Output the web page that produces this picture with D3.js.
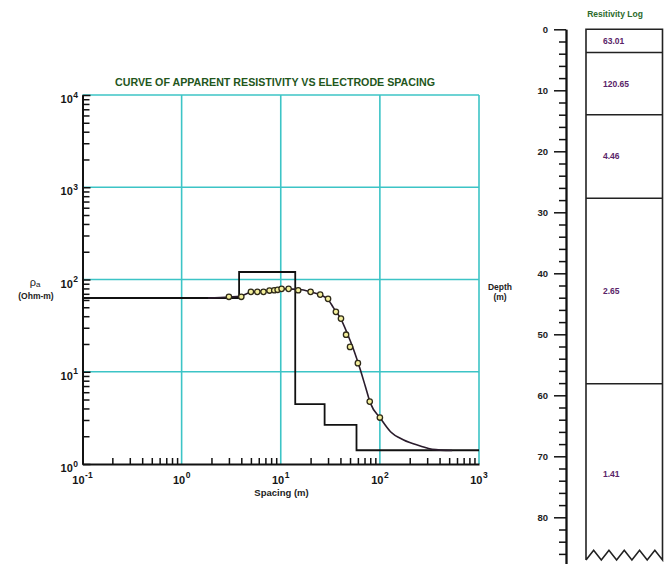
<!DOCTYPE html>
<html><head><meta charset="utf-8">
<script src="https://cdn.jsdelivr.net/npm/d3@7"></script>
<style>body{margin:0;background:#fff}svg{display:block}</style>
</head><body>
<svg id="c" width="670" height="564"></svg>
<script>
// ---------- data ----------
const xTickExponents = [-1, 0, 1, 2, 3];
const yTickExponents = [0, 1, 2, 3, 4];
const obsSpacing = [3, 4, 5, 5.8, 6.7, 7.7, 8.6, 9.3, 10.2, 12, 15, 20, 25, 30, 36, 40.5, 45.6, 50, 60, 79, 100];
const obsRho     = [64.9, 64.9, 73.5, 73.5, 73.5, 75.9, 76.5, 77.3, 79.2, 79.2, 76.5, 73.5, 68.6, 61.7, 44.6, 37.7, 25.2, 18.6, 12.4, 4.75, 3.19];
const fitSpacing = [1.85, 3.02, 3.9, 4.92, 6.66, 8.8, 11.1, 15.7, 19.9, 25.1, 30.4, 34.1, 39.9, 46.7, 54.4, 63.5, 71.4, 80.2, 101, 128, 174, 256, 337, 536];
const fitRho     = [62.8, 64.5, 66.2, 72.2, 75.0, 77.9, 79.2, 77.9, 73.5, 68.2, 59.6, 49.2, 38.3, 26.3, 17.3, 10.5, 6.92, 4.57, 3.14, 2.24, 1.82, 1.57, 1.44, 1.40];
const layerRho    = [63.01, 120.65, 4.46, 2.65, 1.41];
const layerTop    = [0, 3.8, 14.0, 27.7, 58.1];
const layerBottom = [3.8, 14.0, 27.7, 58.1, 87.6];
const layerLabels = ["63.01", "120.65", "4.46", "2.65", "1.41"];
const depthTicks  = [0, 10, 20, 30, 40, 50, 60, 70, 80];

// ---------- setup ----------
const svg = d3.select("#c");
const FONT = "'Liberation Sans', Arial, sans-serif";
const GRID = "#3cc4c6";

const x = d3.scaleLog().domain([0.1, 1000]).range([82.5, 479]);
const y = d3.scaleLog().domain([1, 10000]).range([464, 95]);

const minorX = [], minorY = [];
for (let e = -1; e < 3; e++) for (let i = 2; i <= 9; i++) minorX.push(i * Math.pow(10, e));
for (let e = 0; e < 4; e++) for (let i = 2; i <= 9; i++) minorY.push(i * Math.pow(10, e));

// grid
const gridG = svg.append("g").attr("stroke", GRID).attr("stroke-width", 1.6);
xTickExponents.slice(1).forEach(e => {
  gridG.append("line").attr("x1", x(Math.pow(10, e))).attr("x2", x(Math.pow(10, e)))
    .attr("y1", y(1e4)).attr("y2", y(1));
});
yTickExponents.slice(1).forEach(e => {
  gridG.append("line").attr("x1", x(0.1)).attr("x2", x(1000))
    .attr("y1", y(Math.pow(10, e))).attr("y2", y(Math.pow(10, e)));
});

// axes
const yAxisMinor = d3.axisRight(y).tickValues(minorY).tickSize(7).tickSizeOuter(0).tickFormat("");
const yAxisMajor = d3.axisRight(y).tickValues(yTickExponents.map(e => Math.pow(10, e))).tickSize(8).tickSizeOuter(0).tickFormat("");
const xAxisMinor = d3.axisTop(x).tickValues(minorX).tickSize(6).tickSizeOuter(0).tickFormat("");

function styleAxis(g) {
  g.selectAll("path").attr("stroke", "#111").attr("stroke-width", 1.8);
  g.selectAll("line").attr("stroke", "#111").attr("stroke-width", 1.5);
}
svg.append("g").attr("transform", `translate(${x(0.1)},0)`).call(yAxisMinor).call(styleAxis);
svg.append("g").attr("transform", `translate(${x(0.1)},0)`).call(yAxisMajor).call(styleAxis);
svg.append("g").attr("transform", `translate(0,${y(1)})`).call(xAxisMinor).call(styleAxis);

// y tick labels
yTickExponents.forEach(e => {
  const t = svg.append("text").attr("x", 78).attr("y", y(Math.pow(10, e)) + 8)
    .attr("text-anchor", "end").attr("font-family", FONT).attr("font-size", 11)
    .attr("font-weight", "bold").attr("fill", "#151515");
  t.append("tspan").text("10");
  t.append("tspan").attr("dx", 0.5).attr("dy", -5.5).attr("font-size", 8.5).text(e);
});
// x tick labels
xTickExponents.forEach(e => {
  const t = svg.append("text").attr("x", x(Math.pow(10, e))).attr("y", 483.5)
    .attr("text-anchor", "middle").attr("font-family", FONT).attr("font-size", 11)
    .attr("font-weight", "bold").attr("fill", "#151515");
  t.append("tspan").text("10");
  t.append("tspan").attr("dx", 0.5).attr("dy", -5.5).attr("font-size", 8.5).text(e);
});

// axis titles
svg.append("text").attr("x", 281.5).attr("y", 495.5).attr("text-anchor", "middle")
  .attr("font-family", FONT).attr("font-size", 9.5).attr("font-weight", "bold").attr("fill", "#222")
  .text("Spacing (m)");
const rl = svg.append("text").attr("x", 35).attr("y", 286).attr("text-anchor", "middle")
  .attr("font-family", FONT).attr("font-size", 11).attr("fill", "#222");
rl.append("tspan").text("ρ");
rl.append("tspan").attr("font-size", 8).attr("dy", 1).text("a");
svg.append("text").attr("x", 36).attr("y", 298.5).attr("text-anchor", "middle")
  .attr("font-family", FONT).attr("font-size", 8.5).attr("font-weight", "bold").attr("fill", "#222")
  .text("(Ohm-m)");

// title
svg.append("text").attr("x", 275).attr("y", 85.5).attr("text-anchor", "middle")
  .attr("font-family", FONT).attr("font-size", 11).attr("font-weight", "bold").attr("fill", "#23561c")
  .attr("textLength", 320).attr("lengthAdjust", "spacingAndGlyphs")
  .text("CURVE OF APPARENT RESISTIVITY VS ELECTRODE SPACING");

// model step line
const stepPts = [];
layerRho.forEach((r, i) => {
  const x0 = i === 0 ? 0.1 : layerTop[i];
  const x1 = i === layerRho.length - 1 ? 1000 : layerBottom[i];
  stepPts.push([x0, r], [x1, r]);
});
svg.append("path").datum(stepPts)
  .attr("d", d3.line().x(d => x(d[0])).y(d => y(d[1])))
  .attr("fill", "none").attr("stroke", "#111").attr("stroke-width", 1.8);

// fitted curve
const fitPts = fitSpacing.map((s, i) => [s, fitRho[i]]);
svg.append("path").datum(fitPts)
  .attr("d", d3.line().x(d => x(d[0])).y(d => y(d[1])).curve(d3.curveMonotoneX))
  .attr("fill", "none").attr("stroke", "#2a1c2c").attr("stroke-width", 1.6);

// observed points
svg.append("g").selectAll("circle").data(obsSpacing.map((s, i) => [s, obsRho[i]])).join("circle")
  .attr("cx", d => x(d[0])).attr("cy", d => y(d[1])).attr("r", 2.7)
  .attr("fill", "#f4ef9c").attr("stroke", "#2f2a18").attr("stroke-width", 1.3);

// ---------- resistivity log ----------
const depth = d3.scaleLinear().domain([0, 87.6]).range([29.3, 29.3 + 6.1 * 87.6]);
const minorDepth = d3.range(0, 88, 2).filter(d => d % 10 !== 0);
const dAxisMinor = d3.axisLeft(depth).tickValues(minorDepth).tickSize(7).tickSizeOuter(0).tickFormat("");
const dAxisMajor = d3.axisLeft(depth).tickValues(depthTicks).tickSize(12).tickSizeOuter(0).tickPadding(6);
svg.append("g").attr("transform", "translate(566,0)").call(dAxisMinor).call(styleAxis);
const dg = svg.append("g").attr("transform", "translate(566,0)").call(dAxisMajor).call(styleAxis);
dg.selectAll("text").attr("font-family", FONT).attr("font-size", 9.5).attr("font-weight", "bold").attr("fill", "#222");

svg.append("text").attr("x", 500).attr("y", 290).attr("text-anchor", "middle")
  .attr("font-family", FONT).attr("font-size", 8.5).attr("font-weight", "bold").attr("fill", "#222").text("Depth");
svg.append("text").attr("x", 500).attr("y", 299.5).attr("text-anchor", "middle")
  .attr("font-family", FONT).attr("font-size", 8.5).attr("font-weight", "bold").attr("fill", "#222").text("(m)");

svg.append("text").attr("x", 615).attr("y", 16.5).attr("text-anchor", "middle")
  .attr("font-family", FONT).attr("font-size", 8.5).attr("font-weight", "bold").attr("fill", "#2c6a2a")
  .text("Resitivity Log");

const bx0 = 586, bx1 = 662.5;
const valley = depth(87.0), peak = depth(85.4);
const logG = svg.append("g").attr("stroke", "#222").attr("stroke-width", 1.6).attr("fill", "none");
const nPeaks = 5, half = (bx1 - bx0) / (nPeaks * 2);
const outline = [[bx0, valley], [bx0, depth(0)], [bx1, depth(0)], [bx1, valley]];
const zig = [];
for (let k = 0; k <= nPeaks * 2; k++) zig.push([bx1 - k * half, k % 2 === 0 ? valley : peak]);
logG.append("path").datum(outline.concat(zig)).attr("d", d3.line());
layerBottom.slice(0, -1).forEach(d => {
  logG.append("line").attr("x1", bx0).attr("x2", bx1).attr("y1", depth(d)).attr("y2", depth(d));
});
layerLabels.forEach((lab, i) => {
  svg.append("text").attr("x", 603).attr("y", depth((layerTop[i] + layerBottom[i]) / 2) + 3)
    .attr("font-family", FONT).attr("font-size", 8.5).attr("font-weight", "bold").attr("fill", "#5a2468").text(lab);
});
</script>
</body></html>
